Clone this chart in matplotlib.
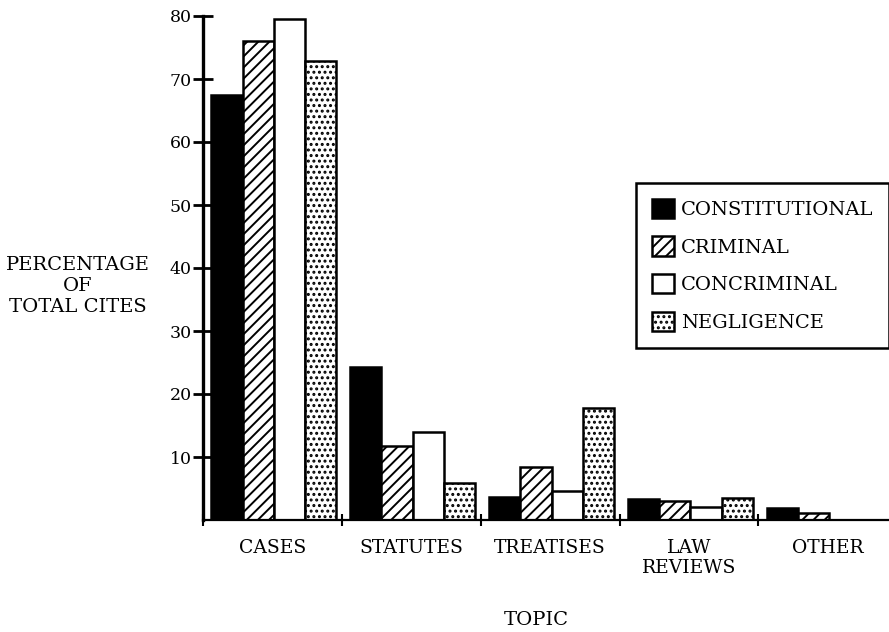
import matplotlib
matplotlib.use('Agg')

from matplotlib import pyplot as plt
from matplotlib.patches import Patch
import numpy as np

# Data (percentage of total cites)
topics = ["CASES", "STATUTES", "TREATISES", "LAW\nREVIEWS", "OTHER"]
series_names = ["CONSTITUTIONAL", "CRIMINAL", "CONCRIMINAL", "NEGLIGENCE"]
constitutional = [67.4, 24.3, 3.7, 3.4, 1.9]
criminal = [76.0, 11.8, 8.4, 3.0, 1.1]
concriminal = [79.5, 14.0, 4.6, 2.1, 0.0]
negligence = [72.9, 5.9, 17.7, 3.5, 0.0]
y_ticks = [10, 20, 30, 40, 50, 60, 70, 80]

# Fill styles for each series
styles = [dict(facecolor='black', hatch=None),
          dict(facecolor='white', hatch='///'),
          dict(facecolor='white', hatch=None),
          dict(facecolor='white', hatch='...')]

plt.rcParams['font.family'] = 'DejaVu Serif'
plt.rcParams['hatch.linewidth'] = 1.4

fig = plt.figure(figsize=(8.89, 6.32), dpi=100)
ax = fig.add_axes([203 / 889, 1 - 520 / 632, 1 - 203 / 889, (520 - 16) / 632])

bar_w = 0.225
offset = 0.06
x = np.arange(len(topics))
for j, vals in enumerate([constitutional, criminal, concriminal, negligence]):
    ax.bar(x + offset + j * bar_w, vals, width=bar_w, align='edge',
           edgecolor='black', linewidth=1.8, **styles[j])

ax.set_xlim(0, 4.94)
ax.set_ylim(0, 80)

for side in ['top', 'right']:
    ax.spines[side].set_visible(False)
ax.spines['left'].set_linewidth(2.4)
ax.spines['bottom'].set_linewidth(1.6)

ax.set_yticks(y_ticks)
ax.set_yticklabels([str(v) for v in y_ticks], fontsize=12.5)
ax.tick_params(axis='y', direction='inout', length=14, width=2, pad=1)

ax.set_xticks(np.arange(5))
ax.set_xticklabels([])
ax.tick_params(axis='x', which='major', direction='inout', length=9, width=1.5)
ax.set_xticks(x + 0.5, minor=True)
ax.set_xticklabels(topics, minor=True, fontsize=13.5, linespacing=1.1)
ax.tick_params(axis='x', which='minor', length=0, pad=14)

fig.text(78 / 889, 1 - 286 / 632, "PERCENTAGE\nOF\nTOTAL CITES",
         ha='center', va='center', fontsize=14, linespacing=1.25)
fig.text(536 / 889, 1 - 620 / 632, "TOPIC", ha='center', va='center', fontsize=14)

handles = [Patch(edgecolor='black', linewidth=1.8, **s) for s in styles]
leg = fig.legend(handles, series_names, loc='upper left',
                 bbox_to_anchor=(636 / 889, 1 - 183 / 632), fontsize=14,
                 handlelength=1.15, handleheight=1.15, handletextpad=0.35,
                 labelspacing=0.9, borderpad=0.8, borderaxespad=0,
                 fancybox=False, framealpha=1, edgecolor='black')
leg.get_frame().set_linewidth(1.8)

plt.savefig("out.png", dpi=100)
plt.close()
